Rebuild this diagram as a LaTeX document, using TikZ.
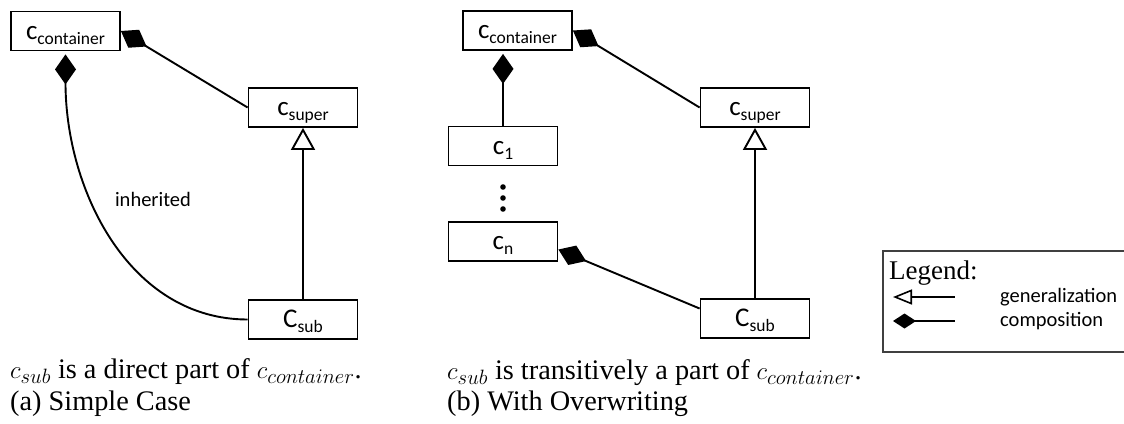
\documentclass[tikz,border=0pt]{standalone}
\usepackage{fontspec}
\setmainfont{Liberation Serif}
\newfontfamily\carlito{Carlito}
\usetikzlibrary{arrows.meta,calc}
\newcommand{\clsname}[2]{{\carlito\fontsize{27}{30}\selectfont #1\raisebox{-5pt}{\fontsize{17.5}{20}\selectfont #2}}}
\begin{document}
\begin{tikzpicture}[x=1pt,y=-1pt,
  cbox/.style={draw,line width=1.8pt,minimum width=109pt,minimum height=39pt,inner sep=0pt,text height=20pt,text depth=4pt},
  conn/.style={line width=1.9pt},
  comp/.style={conn,{Diamond[length=30pt,width=21pt,line width=0pt]}-},
  gen/.style={conn,{Triangle[open,length=22pt,width=24pt,fill=white]}-},
  lcomp/.style={line width=1.6pt,{Diamond[length=23pt,width=15pt,line width=0pt]}-},
  lgen/.style={line width=1.6pt,{Triangle[open,length=19pt,width=15pt,fill=white]}-},
  captext/.style={anchor=base west,inner sep=0pt,font=\fontsize{28.3}{34}\selectfont},
  lbl/.style={inner sep=0pt,font=\carlito\fontsize{20.5}{24}\selectfont},
]
\useasboundingbox (0,0) rectangle (1124,423);
% panel (a)
\node[cbox] (cont) at (65.5,31) {\clsname{c}{container}};
\node[cbox] (super) at (303,107.5) {\clsname{c}{super}};
\node[cbox] (sub) at (303,319.5) {\clsname{C}{sub}};
\draw[comp] (cont.east) -- (super.west);
\draw[comp,shorten <=3pt] (cont.south) .. controls ($(cont.south)+(0,139)$) and ($(sub.west)+(-118,0)$) .. (sub.west);
\draw[gen] (super.south) -- (sub.north);
\node[lbl] (inh) at (153,199) {inherited};
\node[captext] (capa1) at (10,378) {$c_{sub}$ is a direct part of $c_{container}$.};
\node[captext] (capa2) at (10,410) {(a) Simple Case};
% panel (b)
\node[cbox] (cont2) at (517.5,30.5) {\clsname{c}{container}};
\node[cbox] (super2) at (755,107.5) {\clsname{c}{super}};
\node[cbox] (c1) at (503,146) {\clsname{c}{1}};
\node[cbox] (cn) at (503,241.5) {\clsname{c}{n}};
\node[cbox] (sub2) at (755,318.5) {\clsname{C}{sub}};
\draw[comp] (cont2.east) -- (super2.west);
\draw[comp,shorten <=3pt] (c1.north |- cont2.south) -- (c1.north);
\draw[comp] ($(cn.east)+(0,8)$) -- ($(sub2.west)+(0,-10)$);
\draw[gen] (super2.south) -- (sub2.north);
\fill (503,187) circle (2.8pt) (503,198) circle (2.8pt) (503,209) circle (2.8pt);
\node[captext] (capb1) at (447,379) {$c_{sub}$ is transitively a part of $c_{container}$.};
\node[captext] (capb2) at (447,410) {(b) With Overwriting};
% legend
\draw[line width=1.2pt,black!75] (883,251) rectangle (1130,352);
\node[anchor=base west,inner sep=0pt,font=\fontsize{27}{32}\selectfont] (leg) at (889,279) {Legend:};
\coordinate (g1) at (893,297);
\coordinate (g2) at (955,297);
\coordinate (k1) at (893,321);
\coordinate (k2) at (955,321);
\draw[lgen] (g1) -- (g2);
\draw[lcomp] (k1) -- (k2);
\node[lbl,anchor=west] (gtxt) at (1000,297) {generalization};
\node[lbl,anchor=west] (ktxt) at (1000,321) {composition};
\end{tikzpicture}
\end{document}
